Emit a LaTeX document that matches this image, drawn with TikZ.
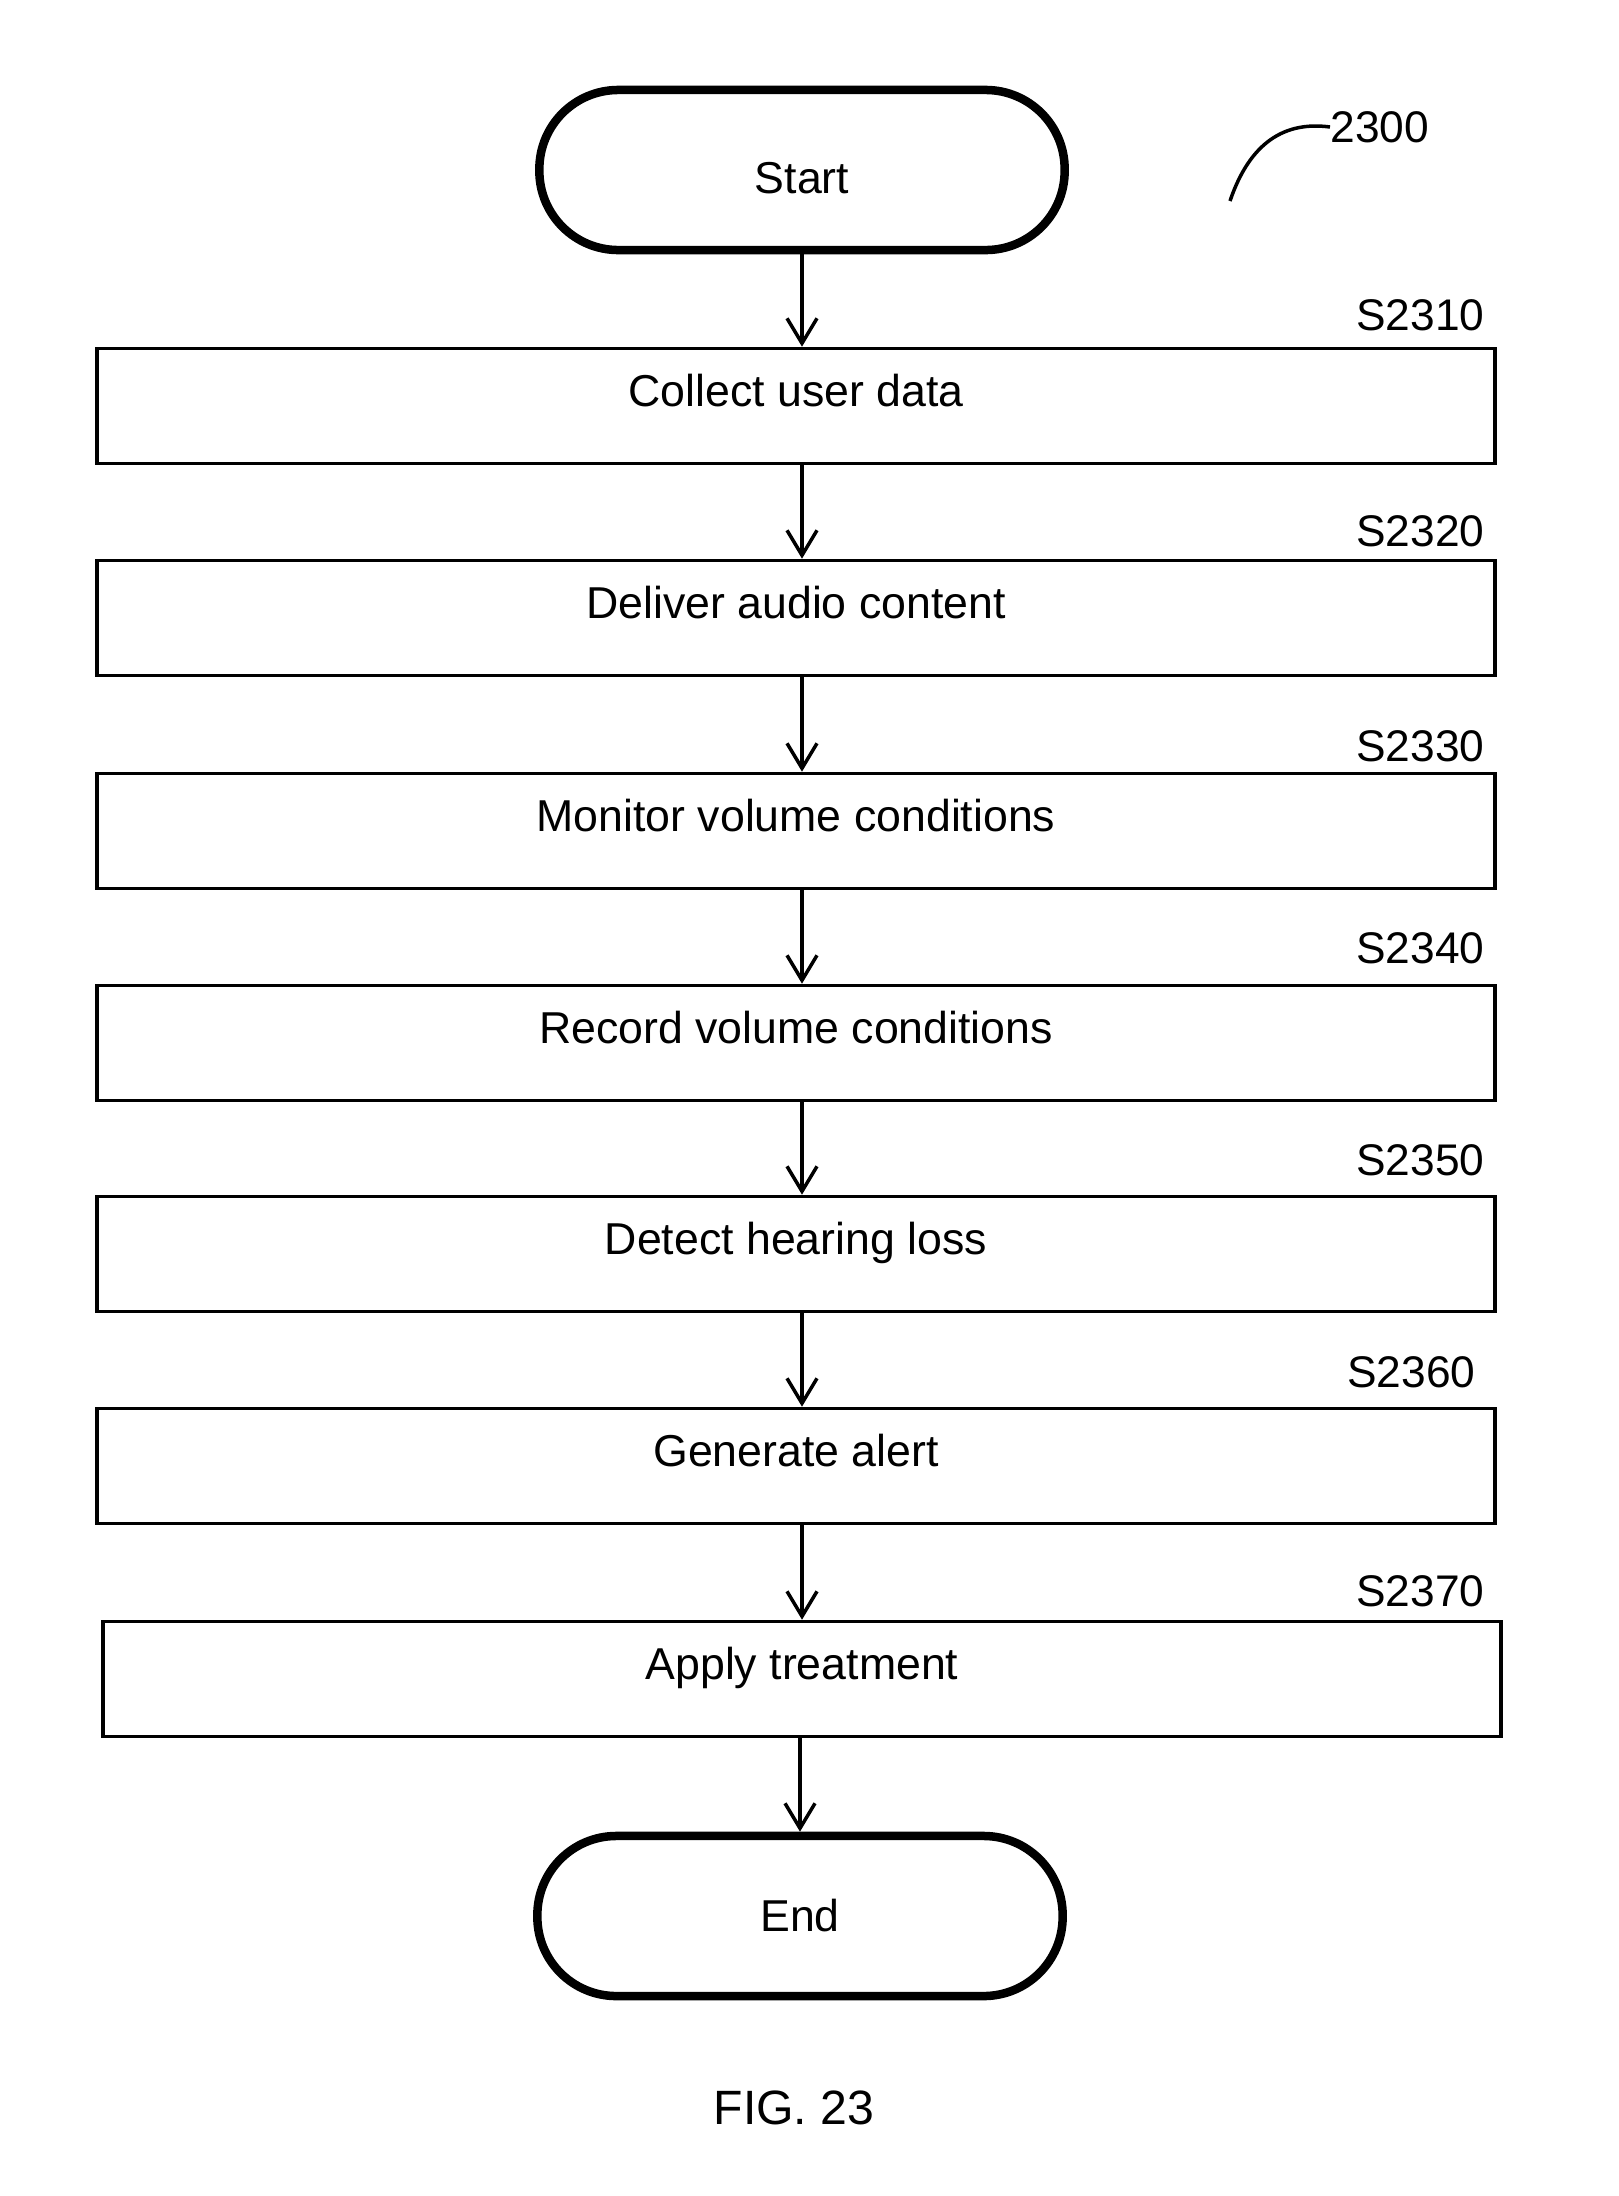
\documentclass[tikz,border=0pt]{standalone}
\usepackage{fontspec}
\setmainfont{Liberation Sans}
\usetikzlibrary{arrows.meta}

\begin{document}
\begin{tikzpicture}[x=0.01cm, y=-0.01cm,
  terminal/.style={draw, line width=0.085cm, rounded corners=0.79cm,
    minimum width=5.25cm, minimum height=1.6cm,
    font=\fontsize{12.7}{15}\selectfont},
  stepbox/.style={draw, line width=0.035cm, minimum width=13.97cm,
    minimum height=1.15cm, text height=0.32cm, text depth=0.32cm,
    font=\fontsize{12.7}{15}\selectfont},
  steplabel/.style={anchor=east, inner sep=0pt,
    font=\fontsize{12.6}{15}\selectfont},
  flow/.style={-{Straight Barb[length=0.25cm, width=0.3cm]},
    line width=0.035cm}]
\useasboundingbox (0,0) rectangle (1619,2196);
% terminals
\node[terminal, text height=0.48cm] (start) at (802,170) {Start};
\node[terminal] (finish) at (800,1916) {End};
% process steps
\node[stepbox] (collect) at (796,406) {Collect user data};
\node[stepbox] (deliver) at (796,618) {Deliver audio content};
\node[stepbox] (monitor) at (796,831) {Monitor volume conditions};
\node[stepbox] (record) at (796,1043) {Record volume conditions};
\node[stepbox] (detect) at (796,1254) {Detect hearing loss};
\node[stepbox] (alert) at (796,1466) {Generate alert};
\node[stepbox] (treat) at (802,1679) {Apply treatment};
% step numbers
\node[steplabel] (s2310) at (1485,315) {S2310};
\node[steplabel] (s2320) at (1485,531) {S2320};
\node[steplabel] (s2330) at (1485,746) {S2330};
\node[steplabel] (s2340) at (1485,948) {S2340};
\node[steplabel] (s2350) at (1485,1160) {S2350};
\node[steplabel] (s2360) at (1476,1372) {S2360};
\node[steplabel] (s2370) at (1485,1591) {S2370};
% flow arrows
\draw[flow] (start.south) -- (start.south |- collect.north);
\draw[flow] (collect.south -| start) -- (deliver.north -| start);
\draw[flow] (deliver.south -| start) -- (monitor.north -| start);
\draw[flow] (monitor.south -| start) -- (record.north -| start);
\draw[flow] (record.south -| start) -- (detect.north -| start);
\draw[flow] (detect.south -| start) -- (alert.north -| start);
\draw[flow] (alert.south -| start) -- (treat.north -| start);
\draw[flow] (treat.south -| finish) -- (finish.north);
% figure reference
\node[font=\fontsize{12.6}{15}\selectfont, anchor=west, inner sep=0pt]
  (ref) at (1330,127) {2300};
\coordinate (reftail) at (1230,201);
\draw[line width=0.035cm] (reftail) .. controls (1250,142) and (1285,121)
  .. (ref.west);
\node[font=\fontsize{13.7}{16}\selectfont] (fig) at (794,2108) {FIG. 23};
\end{tikzpicture}
\end{document}
